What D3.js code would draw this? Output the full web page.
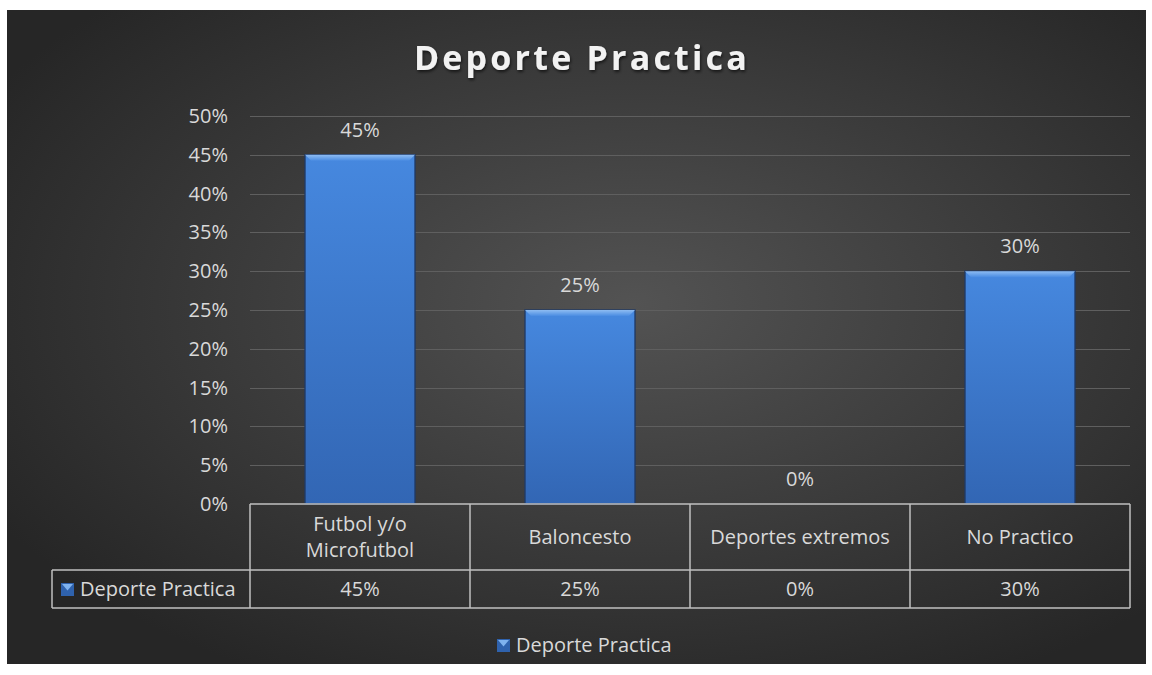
<!DOCTYPE html>
<html>
<head>
<meta charset="utf-8">
<script src="https://cdn.jsdelivr.net/npm/d3@7"></script>
<style>
  body { margin: 0; background: #ffffff; }
  svg text { font-family: "Open Sans", Lato, sans-serif; }
</style>
</head>
<body>
<div id="chart"></div>
<script>
// chart data
let categories = ["Futbol y/o Microfutbol", "Baloncesto", "Deportes extremos", "No Practico"];
let categoryLines = [["Futbol y/o", "Microfutbol"], ["Baloncesto"], ["Deportes extremos"], ["No Practico"]];
let values = [0.45, 0.25, 0.0, 0.30];
let seriesName = "Deporte Practica";
let yTicks = [0, 0.05, 0.10, 0.15, 0.20, 0.25, 0.30, 0.35, 0.40, 0.45, 0.50];

let rows = categories.map((c, i) => ({ name: c, lines: categoryLines[i], value: values[i] }));

let width = 1152, height = 675;
let plot = { left: 250, right: 1130, top: 116, bottom: 504 };
let fontSize = 20;
let txt = "#d9d9d9";
let pct = d3.format(".0%");

let svg = d3.select("#chart").append("svg")
  .attr("width", width)
  .attr("height", height);

let defs = svg.append("defs");

// background radial gradient
let bg = defs.append("radialGradient").attr("id", "bg")
  .attr("cx", "55%").attr("cy", "45%").attr("r", "65%");
bg.append("stop").attr("offset", "0%").attr("stop-color", "#535353");
bg.append("stop").attr("offset", "100%").attr("stop-color", "#262626");

// bar fill
let barGrad = defs.append("linearGradient").attr("id", "barFill")
  .attr("x1", 0).attr("y1", 0).attr("x2", 0).attr("y2", 1);
barGrad.append("stop").attr("offset", "0%").attr("stop-color", "#4688df");
barGrad.append("stop").attr("offset", "100%").attr("stop-color", "#3266b4");

let bevelGrad = defs.append("linearGradient").attr("id", "bevel")
  .attr("x1", 0).attr("y1", 0).attr("x2", 0).attr("y2", 1);
bevelGrad.append("stop").attr("offset", "0%").attr("stop-color", "#8ebcf2");
bevelGrad.append("stop").attr("offset", "100%").attr("stop-color", "#4a8ce2");

// soft shadow for the title
let shadow = defs.append("filter").attr("id", "shadow");
shadow.append("feDropShadow")
  .attr("dx", 1).attr("dy", 2).attr("stdDeviation", 1.5)
  .attr("flood-color", "#000").attr("flood-opacity", 0.6);

svg.append("rect")
  .attr("x", 7).attr("y", 10)
  .attr("width", 1139).attr("height", 654)
  .attr("fill", "url(#bg)");

// title
svg.append("text")
  .attr("x", 582).attr("y", 70)
  .attr("text-anchor", "middle")
  .attr("font-size", 34)
  .attr("font-weight", "bold")
  .attr("letter-spacing", 3.2)
  .attr("fill", "#f2f2f2")
  .attr("filter", "url(#shadow)")
  .text(seriesName);

let x = d3.scaleBand()
  .domain(categories)
  .range([plot.left, plot.right])
  .paddingInner(0.5)
  .paddingOuter(0.25);

let y = d3.scaleLinear()
  .domain([0, 0.5])
  .range([plot.bottom, plot.top]);

// gridlines
svg.append("g")
  .selectAll("line")
  .data(yTicks.slice(1))
  .enter().append("line")
  .attr("x1", plot.left).attr("x2", plot.right)
  .attr("y1", d => Math.round(y(d)) + 0.5)
  .attr("y2", d => Math.round(y(d)) + 0.5)
  .attr("stroke", "#5f5f5f")
  .attr("stroke-width", 1);

// y axis labels
let yAxis = d3.axisLeft(y)
  .tickValues(yTicks)
  .tickFormat(pct)
  .tickSize(0)
  .tickPadding(0);

svg.append("g")
  .attr("transform", "translate(228,0)")
  .call(yAxis)
  .call(g => g.select(".domain").remove())
  .call(g => g.selectAll("text")
    .attr("fill", txt)
    .attr("font-size", fontSize)
    .style("font-family", "'Open Sans', Lato, sans-serif"));

// bars
let bars = svg.append("g")
  .selectAll("g")
  .data(rows)
  .enter().append("g");

bars.append("rect")
  .attr("x", d => x(d.name))
  .attr("y", d => y(d.value))
  .attr("width", x.bandwidth())
  .attr("height", d => y(0) - y(d.value))
  .attr("fill", "url(#barFill)")
  .attr("stroke", "#1f3a66")
  .attr("stroke-width", 1.5)
  .attr("stroke-opacity", d => d.value > 0 ? 0.9 : 0);

// bevel on top of each bar
bars.filter(d => d.value > 0).append("path")
  .attr("d", d => {
    let x0 = x(d.name), x1 = x(d.name) + x.bandwidth(), t = y(d.value), b = 6;
    return "M" + x0 + "," + t + "L" + x1 + "," + t + "L" + (x1 - b) + "," + (t + b) +
      "L" + (x0 + b) + "," + (t + b) + "Z";
  })
  .attr("fill", "url(#bevel)");

// data labels
bars.append("text")
  .attr("x", d => x(d.name) + x.bandwidth() / 2)
  .attr("y", d => y(d.value) - 18)
  .attr("text-anchor", "middle")
  .attr("font-size", fontSize)
  .attr("fill", txt)
  .text(d => pct(d.value));

// data table
let colW = x.step();
let tbl = svg.append("g")
  .attr("stroke", "#c0c0c0")
  .attr("stroke-width", 1.5)
  .attr("fill", "none");
let rowTop = plot.bottom, rowMid = 570, rowBot = 608, legLeft = 52;

tbl.append("line").attr("x1", plot.left).attr("x2", plot.right).attr("y1", rowTop).attr("y2", rowTop);
tbl.append("line").attr("x1", legLeft).attr("x2", plot.right).attr("y1", rowMid).attr("y2", rowMid);
tbl.append("line").attr("x1", legLeft).attr("x2", plot.right).attr("y1", rowBot).attr("y2", rowBot);
tbl.append("line").attr("x1", legLeft).attr("x2", legLeft).attr("y1", rowMid).attr("y2", rowBot);
tbl.selectAll(".vline")
  .data(d3.range(categories.length + 1))
  .enter().append("line")
  .attr("class", "vline")
  .attr("x1", i => plot.left + i * colW).attr("x2", i => plot.left + i * colW)
  .attr("y1", rowTop).attr("y2", rowBot);

// header cells
svg.append("g")
  .selectAll("text")
  .data(rows)
  .enter().append("text")
  .attr("text-anchor", "middle")
  .attr("font-size", fontSize)
  .attr("fill", txt)
  .each(function (d, i) {
    let cx = plot.left + i * colW + colW / 2;
    let startY = (rowTop + rowMid) / 2 + 7 - (d.lines.length - 1) * 13;
    d3.select(this).selectAll("tspan")
      .data(d.lines)
      .enter().append("tspan")
      .attr("x", cx)
      .attr("y", (l, k) => startY + k * 26)
      .text(l => l);
  });

// value cells
svg.append("g")
  .selectAll("text")
  .data(rows)
  .enter().append("text")
  .attr("x", (d, i) => plot.left + i * colW + colW / 2)
  .attr("y", (rowMid + rowBot) / 2 + 7)
  .attr("text-anchor", "middle")
  .attr("font-size", fontSize)
  .attr("fill", txt)
  .text(d => pct(d.value));

// legend key helper
function legendKey(g, kx, ky) {
  g.append("rect").attr("x", kx).attr("y", ky).attr("width", 13).attr("height", 13)
    .attr("fill", "#2f62ad");
  g.append("path")
    .attr("d", "M" + (kx + 1) + "," + (ky + 1) + "L" + (kx + 12) + "," + (ky + 1) + "L" + (kx + 6.5) + "," + (ky + 7.5) + "Z")
    .attr("fill", "#7fb2ee");
}

let rowKey = svg.append("g");
legendKey(rowKey, 61, 583);
rowKey.append("text")
  .attr("x", 80).attr("y", (rowMid + rowBot) / 2 + 7)
  .attr("font-size", fontSize)
  .attr("fill", txt)
  .text(seriesName);

// bottom legend
let legend = svg.append("g");
legendKey(legend, 497, 639);
legend.append("text")
  .attr("x", 516).attr("y", 652)
  .attr("font-size", fontSize)
  .attr("fill", txt)
  .text(seriesName);
</script>
</body>
</html>
